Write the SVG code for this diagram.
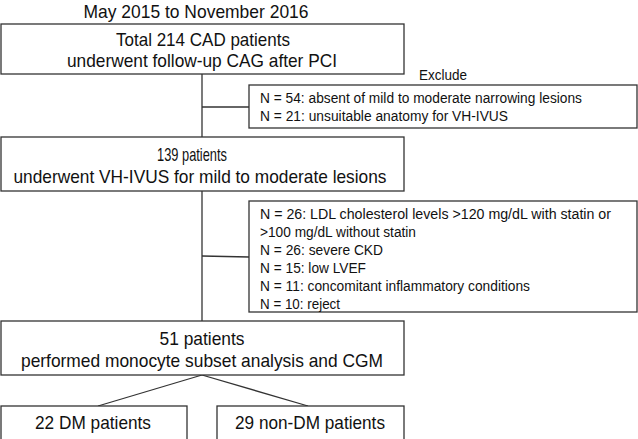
<svg xmlns="http://www.w3.org/2000/svg" width="638" height="439" viewBox="0 0 638 439">
<style>
.b{fill:#fff;stroke:#333;stroke-width:1.3}
.t{font-family:"Liberation Sans",Arial,sans-serif;font-size:19px;fill:#111;text-anchor:middle}
.s{font-family:"Liberation Sans",Arial,sans-serif;font-size:14px;fill:#111}
.c{stroke:#333;stroke-width:1.3;fill:none}
</style>
<rect width="638" height="439" fill="#fff"/>
<text class="t" x="196" y="18" textLength="225" lengthAdjust="spacingAndGlyphs">May 2015 to November 2016</text>
<g id="connectors">
<line class="c" x1="202" y1="74" x2="202" y2="137"/>
<line class="c" x1="202" y1="107" x2="249" y2="107"/>
<line class="c" x1="202" y1="191" x2="202" y2="321"/>
<line class="c" x1="202" y1="256" x2="249" y2="257"/>
<line class="c" x1="202" y1="375" x2="98" y2="406"/>
<line class="c" x1="202" y1="375" x2="308" y2="406"/>
</g>
<g id="n1"><rect class="b" x="1" y="24" width="403" height="50"/>
<text class="t" x="203" y="46" textLength="174" lengthAdjust="spacingAndGlyphs">Total 214 CAD patients</text>
<text class="t" x="202" y="67" textLength="270" lengthAdjust="spacingAndGlyphs">underwent follow-up CAG after PCI</text></g>
<text class="s" x="419" y="80" textLength="48" lengthAdjust="spacingAndGlyphs">Exclude</text>
<g id="x1"><rect class="b" x="249" y="85" width="388" height="43"/>
<text class="s" x="260" y="103" textLength="322" lengthAdjust="spacingAndGlyphs">N = 54: absent of mild to moderate narrowing lesions</text>
<text class="s" x="260" y="121" textLength="248" lengthAdjust="spacingAndGlyphs">N = 21: unsuitable anatomy for VH-IVUS</text></g>
<g id="n2"><rect class="b" x="1" y="137" width="403" height="54"/>
<text class="t" x="192" y="161" textLength="70" lengthAdjust="spacingAndGlyphs">139 patients</text>
<text class="t" x="200" y="183" textLength="373" lengthAdjust="spacingAndGlyphs">underwent VH-IVUS for mild to moderate lesions</text></g>
<g id="x2"><rect class="b" x="249" y="201" width="388" height="111"/>
<text class="s" x="260" y="219" textLength="351" lengthAdjust="spacingAndGlyphs">N = 26: LDL cholesterol levels &gt;120 mg/dL with statin or</text>
<text class="s" x="260" y="237" textLength="156" lengthAdjust="spacingAndGlyphs">&gt;100 mg/dL without statin</text>
<text class="s" x="260" y="255" textLength="123" lengthAdjust="spacingAndGlyphs">N = 26: severe CKD</text>
<text class="s" x="260" y="273" textLength="106" lengthAdjust="spacingAndGlyphs">N = 15: low LVEF</text>
<text class="s" x="260" y="291" textLength="270" lengthAdjust="spacingAndGlyphs">N = 11: concomitant inflammatory conditions</text>
<text class="s" x="260" y="309" textLength="80" lengthAdjust="spacingAndGlyphs">N = 10: reject</text></g>
<g id="n3"><rect class="b" x="1" y="321" width="403" height="54"/>
<text class="t" x="202" y="345" textLength="85" lengthAdjust="spacingAndGlyphs">51 patients</text>
<text class="t" x="202" y="367" textLength="362" lengthAdjust="spacingAndGlyphs">performed monocyte subset analysis and CGM</text></g>
<g id="n4"><rect class="b" x="1" y="406" width="186" height="40"/>
<text class="t" x="93" y="429" textLength="116" lengthAdjust="spacingAndGlyphs">22 DM patients</text></g>
<g id="n5"><rect class="b" x="217" y="406" width="187" height="40"/>
<text class="t" x="310" y="429" textLength="150" lengthAdjust="spacingAndGlyphs">29 non-DM patients</text></g>
</svg>
